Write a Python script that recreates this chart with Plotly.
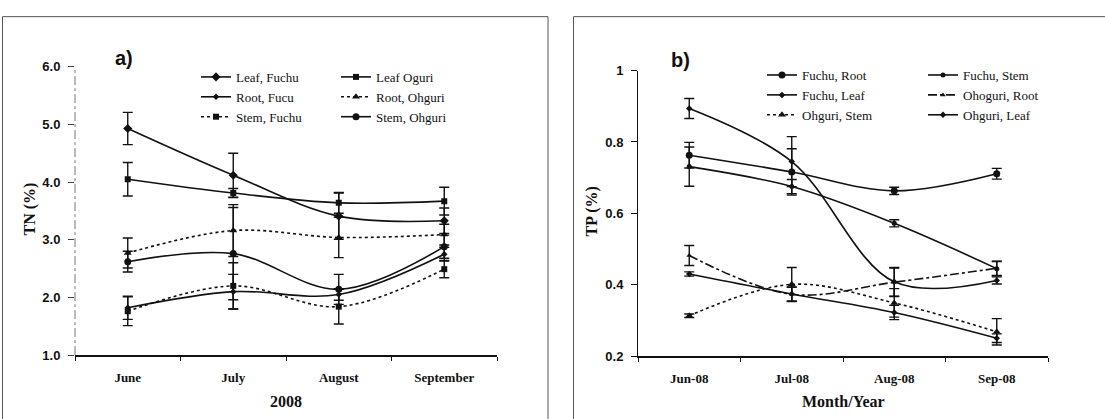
import plotly.graph_objects as go

W, H = 1105, 419

# ---- panel a) total nitrogen ----
months_a = ["June", "July", "August", "September"]
tn_ticks = [1.0, 2.0, 3.0, 4.0, 5.0, 6.0]
tn_tick_text = ["1.0", "2.0", "3.0", "4.0", "5.0", "6.0"]

tn_leaf_fuchu = [4.93, 4.12, 3.41, 3.33]
tn_leaf_fuchu_err = [0.28, 0.38, 0.40, 0.22]
tn_leaf_oguri = [4.05, 3.81, 3.64, 3.67]
tn_leaf_oguri_err = [0.29, 0.08, 0.18, 0.24]
tn_root_fucu = [1.82, 2.10, 2.05, 2.75]
tn_root_fucu_err = [0.20, 0.30, 0.10, 0.12]
tn_root_ohguri = [2.77, 3.16, 3.04, 3.09]
tn_root_ohguri_err = [0.26, 0.45, 0.35, 0.18]
tn_stem_fuchu = [1.76, 2.20, 1.84, 2.49]
tn_stem_fuchu_err = [0.25, 0.40, 0.30, 0.15]
tn_stem_ohguri = [2.62, 2.76, 2.14, 2.88]
tn_stem_ohguri_err = [0.18, 0.80, 0.26, 0.20]

# ---- panel b) total phosphorus ----
months_b = ["Jun-08", "Jul-08", "Aug-08", "Sep-08"]
tp_ticks = [0.2, 0.4, 0.6, 0.8, 1.0]
tp_tick_text = ["0.2", "0.4", "0.6", "0.8", "1"]

tp_fuchu_root = [0.763, 0.716, 0.663, 0.711]
tp_fuchu_root_err = [0.036, 0.065, 0.010, 0.015]
tp_fuchu_stem = [0.731, 0.675, 0.572, 0.445]
tp_fuchu_stem_err = [0.055, 0.020, 0.010, 0.020]
tp_fuchu_leaf = [0.894, 0.745, 0.408, 0.412]
tp_fuchu_leaf_err = [0.028, 0.070, 0.040, 0.010]
tp_ohoguri_root = [0.482, 0.373, 0.407, 0.446]
tp_ohoguri_root_err = [0.028, 0.020, 0.040, 0.020]
tp_ohguri_stem = [0.313, 0.401, 0.349, 0.268]
tp_ohguri_stem_err = [0.005, 0.047, 0.040, 0.037]
tp_ohguri_leaf = [0.430, 0.374, 0.322, 0.250]
tp_ohguri_leaf_err = [0.006, 0.020, 0.020, 0.012]

SERIF = "Liberation Serif"
SANS = "Liberation Sans"
BLACK = "#111111"


def series(x, y, err, name, symbol, msize, dash, xa, ya, legend):
    return go.Scatter(
        x=x, y=y, name=name, mode="lines+markers",
        line=dict(color=BLACK, width=1.6, dash=dash, shape="spline"),
        marker=dict(symbol=symbol, size=msize, color=BLACK),
        error_y=dict(type="data", array=err, visible=True,
                     color=BLACK, thickness=1.4, width=5),
        xaxis=xa, yaxis=ya, legend=legend,
    )


fig = go.Figure()

# panel a) traces, first legend column then second
fig.add_trace(series(months_a, tn_leaf_fuchu, tn_leaf_fuchu_err, "Leaf, Fuchu", "diamond", 7, "solid", "x", "y", "legend"))
fig.add_trace(series(months_a, tn_root_fucu, tn_root_fucu_err, "Root, Fucu", "diamond", 5, "solid", "x", "y", "legend"))
fig.add_trace(series(months_a, tn_stem_fuchu, tn_stem_fuchu_err, "Stem, Fuchu", "square", 6, "dot", "x", "y", "legend"))
fig.add_trace(series(months_a, tn_leaf_oguri, tn_leaf_oguri_err, "Leaf Oguri", "square", 6, "solid", "x", "y", "legend2"))
fig.add_trace(series(months_a, tn_root_ohguri, tn_root_ohguri_err, "Root, Ohguri", "triangle-up", 7, "dot", "x", "y", "legend2"))
fig.add_trace(series(months_a, tn_stem_ohguri, tn_stem_ohguri_err, "Stem, Ohguri", "circle", 7, "solid", "x", "y", "legend2"))

# panel b) traces
fig.add_trace(series(months_b, tp_fuchu_root, tp_fuchu_root_err, "Fuchu, Root", "circle", 7, "solid", "x2", "y2", "legend3"))
fig.add_trace(series(months_b, tp_fuchu_leaf, tp_fuchu_leaf_err, "Fuchu, Leaf", "diamond", 5, "solid", "x2", "y2", "legend3"))
fig.add_trace(series(months_b, tp_ohguri_stem, tp_ohguri_stem_err, "Ohguri, Stem", "triangle-up", 7, "dot", "x2", "y2", "legend3"))
fig.add_trace(series(months_b, tp_fuchu_stem, tp_fuchu_stem_err, "Fuchu, Stem", "circle", 5, "solid", "x2", "y2", "legend4"))
fig.add_trace(series(months_b, tp_ohoguri_root, tp_ohoguri_root_err, "Ohoguri, Root", "triangle-up", 5, "dashdot", "x2", "y2", "legend4"))
fig.add_trace(series(months_b, tp_ohguri_leaf, tp_ohguri_leaf_err, "Ohguri, Leaf", "diamond", 5, "solid", "x2", "y2", "legend4"))


def px(x):
    return x / W


def py(y):
    return 1 - y / H


xtick_font = dict(family=SERIF, size=13, color=BLACK, weight="bold")
ytick_font = dict(family=SANS, size=13, color=BLACK, weight="bold")
legend_font = dict(family=SERIF, size=13, color=BLACK)


def legend_box(x, y):
    return dict(x=px(x), y=py(y), xanchor="left", yanchor="top",
                font=legend_font, bgcolor="rgba(0,0,0,0)", borderwidth=0,
                tracegroupgap=0, itemwidth=30)


def cat_axis(domain, anchor):
    return dict(domain=domain, type="category", range=[-0.5, 3.5],
                showgrid=False, zeroline=False, showline=True, linecolor=BLACK, linewidth=1.5,
                ticks="outside", tickson="boundaries", ticklen=4, tickcolor=BLACK,
                ticklabelstandoff=10, tickfont=xtick_font, anchor=anchor)


fig.update_layout(
    width=W, height=H,
    margin=dict(l=0, r=0, t=0, b=0),
    paper_bgcolor="white", plot_bgcolor="white",
    showlegend=True,
    xaxis=cat_axis([px(75), px(497)], "y"),
    yaxis=dict(domain=[py(361), py(62)], range=[1, 6], tickvals=tn_ticks, ticktext=tn_tick_text,
               showgrid=False, zeroline=False, showline=False,
               ticks="outside", ticklen=6, tickcolor="#444444", ticklabelstandoff=5,
               tickfont=ytick_font, anchor="x"),
    xaxis2=cat_axis([px(638), px(1048)], "y2"),
    yaxis2=dict(domain=[py(362), py(66)], range=[0.2, 1.0], tickvals=tp_ticks, ticktext=tp_tick_text,
                showgrid=False, zeroline=False, showline=True, linecolor=BLACK, linewidth=1,
                ticks="outside", ticklen=6, tickcolor=BLACK, ticklabelstandoff=5,
                tickfont=ytick_font, anchor="x2"),
    legend=legend_box(196, 57),
    legend2=legend_box(336, 57),
    legend3=legend_box(762, 55),
    legend4=legend_box(923, 55),
)

# vertical axis line of panel a) (faint, broken)
fig.add_shape(type="line", xref="paper", yref="paper",
              x0=px(75), x1=px(75), y0=py(361), y1=py(62),
              line=dict(color="#777777", width=1, dash="dashdot"))

# chart-area frames
frame = dict(color="#555555", width=1)
fig.add_shape(type="rect", xref="paper", yref="paper",
              x0=px(2.5), x1=px(548), y0=-0.2, y1=py(10), line=frame)
fig.add_shape(type="rect", xref="paper", yref="paper",
              x0=px(573.5), x1=1.2, y0=-0.2, y1=py(10), line=frame)

title_font = dict(family=SERIF, size=16, color=BLACK, weight="bold")
label_font = dict(family=SANS, size=20, color=BLACK, weight="bold")

annotations = [
    dict(text="a)", x=px(124), y=py(53), font=label_font),
    dict(text="b)", x=px(680), y=py(55), font=label_font),
    dict(text="2008", x=px(286), y=py(409), font=title_font),
    dict(text="Month/Year", x=px(843), y=py(409), font=title_font),
    dict(text="TN (%)", x=px(30), y=py(210), font=title_font, textangle=-90),
    dict(text="TP (%)", x=px(592), y=py(212), font=title_font, textangle=-90),
]
for a in annotations:
    fig.add_annotation(xref="paper", yref="paper", showarrow=False,
                       xanchor="center", yanchor="middle", **a)

fig.write_html("out.html")
